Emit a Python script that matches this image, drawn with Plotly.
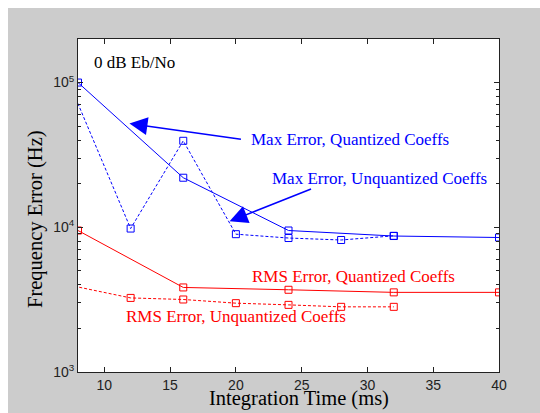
import plotly.graph_objects as go
import math

# ---- data ----
x_quant = [8, 16, 24, 32, 40]
max_quant = [1.0e5, 2.2e4, 9.5e3, 8.7e3, 8.5e3]
rms_quant = [9.5e3, 3.84e3, 3.70e3, 3.55e3, 3.55e3]

x_unquant = [4, 12, 16, 20, 24, 28, 32]
max_unquant = [5.2e5, 9.8e3, 3.96e4, 8.96e3, 8.43e3, 8.17e3, 8.73e3]
rms_unquant = [4.6e3, 3.25e3, 3.17e3, 2.99e3, 2.91e3, 2.82e3, 2.82e3]

x_ticks = [10, 15, 20, 25, 30, 35, 40]
y_major = [1e3, 1e4, 1e5]
y_major_text = ["10<sup>3</sup>", "10<sup>4</sup>", "10<sup>5</sup>"]
y_minor = [m * d for d in (1e3, 1e4, 1e5) for m in range(2, 10) if m * d <= 2e5]

BLUE = "#0000FF"
RED = "#FF0000"
SERIF = "Liberation Serif, Times New Roman, serif"
SANS = "Liberation Sans, Arial, sans-serif"
DASH = "3px,2px"

fig = go.Figure()

def add(x, y, color, dash):
    fig.add_trace(go.Scatter(
        x=x, y=y, mode="lines+markers",
        line=dict(color=color, width=1, dash=dash),
        marker=dict(symbol="square-open", size=7, color=color, line=dict(width=1, color=color)),
        cliponaxis=True, showlegend=False))

add(x_unquant, max_unquant, BLUE, DASH)
add(x_quant, max_quant, BLUE, "solid")
add(x_unquant, rms_unquant, RED, DASH)
add(x_quant, rms_quant, RED, "solid")

annotations = [
    dict(x=9.10, y=5.138, text="0 dB Eb/No", color="black"),
    dict(x=20.96, y=4.607, text="Max Error, Quantized Coeffs", color=BLUE),
    dict(x=22.56, y=4.34, text="Max Error, Unquantized Coeffs", color=BLUE),
    dict(x=21.04, y=3.657, text="RMS Error, Quantized Coeffs", color=RED),
    dict(x=11.53, y=3.386, text="RMS Error, Unquantized Coeffs", color=RED),
]
for a in annotations:
    fig.add_annotation(x=a["x"], y=a["y"], xref="x", yref="y", text=a["text"],
                       showarrow=False, xanchor="left", yanchor="middle",
                       font=dict(family=SERIF, size=17, color=a["color"]))

# arrows
fig.add_annotation(x=11.91, y=4.717, xref="x", yref="y", ax=113, ay=16, text="",
                   showarrow=True, arrowhead=2, arrowsize=2.4, arrowwidth=1.5, arrowcolor=BLUE)
fig.add_annotation(x=19.52, y=4.041, xref="x", yref="y", ax=83, ay=-33, text="",
                   showarrow=True, arrowhead=2, arrowsize=2.4, arrowwidth=1.5, arrowcolor=BLUE)

# axis titles as annotations
fig.add_annotation(x=(298.5 - 78) / 421, y=(372 - 398) / 333, xref="paper", yref="paper",
                   text="Integration Time (ms)", showarrow=False, xanchor="center", yanchor="middle",
                   font=dict(family=SERIF, size=20.5, color="black"))
fig.add_annotation(x=(35 - 78) / 421, y=(372 - 219) / 333, xref="paper", yref="paper",
                   text="Frequency Error (Hz)", showarrow=False, xanchor="center", yanchor="middle",
                   textangle=-90, font=dict(family=SERIF, size=20.5, color="black"))

# white strips at top and left of figure
fig.add_shape(type="rect", xref="paper", yref="paper", x0=-0.3, x1=1.2, y0=(372 - 8) / 333, y1=1.3,
              fillcolor="white", line=dict(width=0), layer="below")
fig.add_shape(type="rect", xref="paper", yref="paper", x0=-0.3, x1=(8 - 78) / 421, y0=-0.3, y1=1.3,
              fillcolor="white", line=dict(width=0), layer="below")

fig.update_layout(
    width=540, height=413,
    margin=dict(l=78, r=41, t=39, b=41),
    paper_bgcolor="#CCCCCC", plot_bgcolor="white",
    xaxis=dict(range=[8, 40], tickmode="array", tickvals=x_ticks, ticks="inside", ticklen=5,
               showline=True, linecolor="#222", linewidth=1, mirror="ticks", showgrid=False,
               zeroline=False, tickcolor="#222",
               tickfont=dict(family=SANS, size=14, color="#222")),
    yaxis=dict(type="log", range=[3, math.log10(2e5)], tickmode="array", tickvals=y_major,
               ticktext=y_major_text, ticks="inside", ticklen=5, tickcolor="#222",
               showline=True, linecolor="#222", linewidth=1, mirror="ticks", showgrid=False,
               zeroline=False, tickfont=dict(family=SANS, size=14, color="#222"),
               minor=dict(tickmode="array", tickvals=y_minor, ticks="inside", ticklen=3,
                          tickcolor="#222", showgrid=False)),
)

fig.write_html("out.html")
